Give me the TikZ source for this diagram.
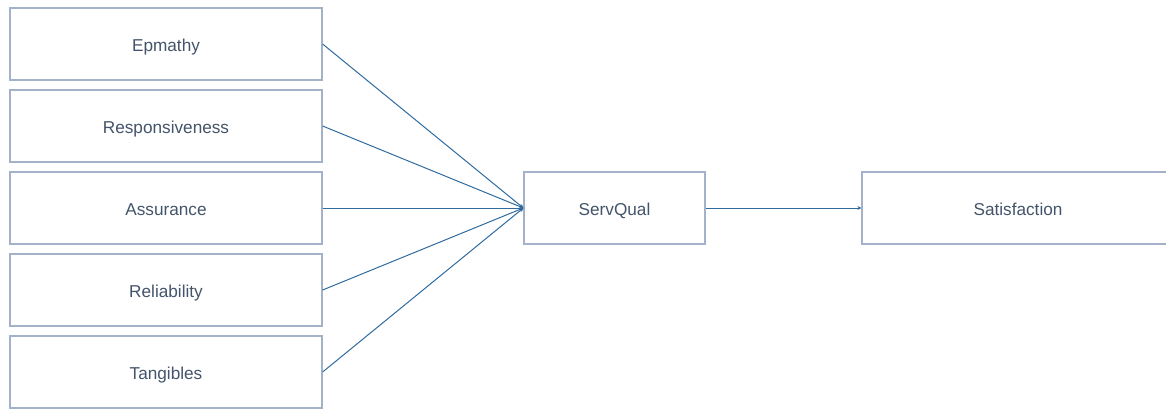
\documentclass[tikz,border=0pt]{standalone}
\usepackage{fontspec}
\setmainfont{Liberation Sans}
\usetikzlibrary{arrows.meta}
\definecolor{boxline}{HTML}{A3B1C9}
\definecolor{conn}{HTML}{2F6B9F}
\definecolor{txt}{HTML}{44546A}
\begin{document}
\begin{tikzpicture}[x=1pt,y=-1pt,
  box/.style={draw=boxline,line width=1.2pt,fill=white,minimum width=312pt,minimum height=72pt,inner sep=0pt,text height=14pt,text depth=0pt,text=txt,font=\fontsize{17.2pt}{20pt}\selectfont},
  link/.style={draw=conn,line width=1pt,-{Stealth[length=4pt,width=4pt]}}]
\useasboundingbox (0,0) rectangle (1166,408);
\node[box] (emp) at (166,44) {Epmathy};
\node[box] (res) at (166,126) {Responsiveness};
\node[box] (ass) at (166,208) {Assurance};
\node[box] (rel) at (166,290) {Reliability};
\node[box] (tan) at (166,372) {Tangibles};
\node[box,minimum width=181pt] (sq) at (614.5,208) {ServQual};
\node[box] (sat) at (1018,208) {Satisfaction};
\foreach \n in {emp,res,ass,rel,tan}
  \draw[link] (\n.east) -- (sq.west);
\draw[link] (sq.east) -- (sat.west);
\end{tikzpicture}
\end{document}
